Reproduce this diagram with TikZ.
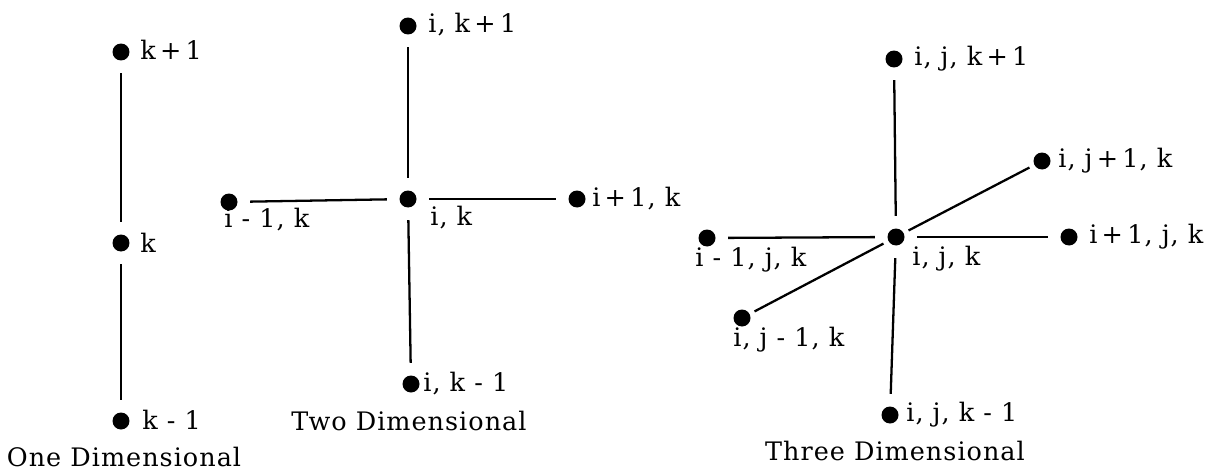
\documentclass[tikz,border=0pt]{standalone}
\usepackage{fontspec}
\setmainfont{DejaVu Serif}[LetterSpace=4]
\begin{document}
\begin{tikzpicture}[x=0.02cm,y=-0.02cm,
  dot/.style={circle,fill=black,inner sep=0pt,minimum size=0.34cm},
  lbl/.style={anchor=west,inner sep=0pt,font=\fontsize{14.5}{16}\selectfont},
  caption/.style={inner sep=0pt,font=\fontsize{14.5}{16}\selectfont},
  link/.style={line width=1.3pt,shorten <=7pt,shorten >=7pt},
  slink/.style={line width=1.3pt,shorten <=3pt,shorten >=3pt}]
\useasboundingbox (0,0) rectangle (1210,470);
% One dimensional
\node[dot] (a1) at (121,52) {};
\node[dot] (a2) at (121,243) {};
\node[dot] (a3) at (121,421) {};
\node[lbl] (a1l) at (140,50) {k\,+\,1};
\node[lbl] (a2l) at (140,243) {k};
\node[lbl] (a3l) at (142,420) {k - 1};
\node[caption] (acap) at (124,457) {One Dimensional};
\draw[link] (a1) -- (a2);
\draw[link] (a2) -- (a3);
% Two dimensional
\node[dot] (bT) at (408,26) {};
\node[dot] (bL) at (229,202) {};
\node[dot] (bC) at (408,199) {};
\node[dot] (bR) at (577,199) {};
\node[dot] (bB) at (411,384) {};
\node[lbl] (bTl) at (428,25) {i,\ k\,+\,1};
\node[lbl] (bLl) at (224,220) {i - 1,\ k};
\node[lbl] (bCl) at (430,218) {i,\ k};
\node[lbl] (bRl) at (592,199) {i\,+\,1,\ k};
\node[lbl] (bBl) at (423,384) {i,\ k - 1};
\node[caption] (bcap) at (409,421) {Two Dimensional};
\draw[link] (bT) -- (bC);
\draw[link] (bC) -- (bB);
\draw[link] (bL) -- (bC);
\draw[link] (bC) -- (bR);
% Three dimensional
\node[dot] (cT) at (894,59) {};
\node[dot] (cUR) at (1042,161) {};
\node[dot] (cC) at (896,237) {};
\node[dot] (cL) at (707,238) {};
\node[dot] (cR) at (1069,237) {};
\node[dot] (cLL) at (742,318) {};
\node[dot] (cB) at (890,415) {};
\node[lbl] (cTl) at (914,59) {i,\ j,\ k\,+\,1};
\node[lbl] (cURl) at (1058,161) {i,\ j\,+\,1,\ k};
\node[lbl] (cCl) at (912,259) {i,\ j,\ k};
\node[lbl] (cLl) at (695,260) {i - 1,\ j,\ k};
\node[lbl] (cRl) at (1089,237) {i\,+\,1,\ j,\ k};
\node[lbl] (cLLl) at (733,340) {i,\ j - 1,\ k};
\node[lbl] (cBl) at (906,415) {i,\ j,\ k - 1};
\node[caption] (ccap) at (895,451) {Three Dimensional};
\draw[link] (cT) -- (cC);
\draw[link] (cC) -- (cB);
\draw[link] (cL) -- (cC);
\draw[link] (cC) -- (cR);
\draw[slink] (cC) -- (cUR);
\draw[slink] (cLL) -- (cC);
\end{tikzpicture}
\end{document}
